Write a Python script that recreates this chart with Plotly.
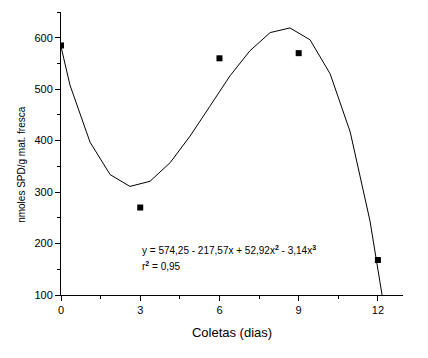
import plotly.graph_objects as go

# Measured points
coletas = [0, 3, 6, 9, 12]
spd = [585, 270, 560, 570, 168]

# Fitted curve vertices
curve_x = [-0.42, 0.34, 1.10, 1.86, 2.61, 3.37, 4.13, 4.89, 5.64, 6.40, 7.16, 7.92, 8.67, 9.43, 10.19, 10.95, 11.70, 12.46]
curve_y = [675, 508, 397, 334, 311, 321, 357, 409, 467, 526, 575, 610, 619, 596, 530, 417, 244, 5]

x_ticks = [0, 3, 6, 9, 12]
y_ticks = [100, 200, 300, 400, 500, 600]

font = "Arial, Liberation Sans, sans-serif"

fig = go.Figure()
fig.add_trace(go.Scatter(x=curve_x, y=curve_y, mode="lines",
                         line=dict(color="black", width=1), showlegend=False))
fig.add_trace(go.Scatter(x=coletas, y=spd, mode="markers", cliponaxis=True,
                         marker=dict(symbol="square", size=6, color="black"),
                         showlegend=False))

fig.update_layout(
    width=428, height=358,
    margin=dict(l=61, r=25, t=12, b=63),
    paper_bgcolor="white", plot_bgcolor="white",
    font=dict(family=font, size=11, color="black"),
    xaxis=dict(range=[0, 12.95], tickvals=x_ticks, ticktext=[str(v) for v in x_ticks],
               automargin=False,
               showgrid=False, zeroline=False, showline=True, linecolor="black", linewidth=1,
               ticks="outside", ticklen=5, tickwidth=1, tickcolor="black",
               minor=dict(dtick=1.5, tick0=0, ticks="outside", ticklen=3, tickcolor="black", showgrid=False),
               title=dict(text="Coletas (dias)", font=dict(size=13, family=font), standoff=12),
               tickfont=dict(size=11, family=font)),
    yaxis=dict(range=[100, 650], tickvals=y_ticks, ticktext=[str(v) for v in y_ticks],
               automargin=False,
               showgrid=False, zeroline=False, showline=True, linecolor="black", linewidth=1,
               ticks="outside", ticklen=5, tickwidth=1, tickcolor="black",
               minor=dict(dtick=50, tick0=0, ticks="outside", ticklen=3, tickcolor="black", showgrid=False),
               tickfont=dict(size=11, family=font)),
)

fig.add_annotation(x=-0.114, y=0.46, xref="paper", yref="paper", xanchor="center", yanchor="middle",
                   text="nmoles SPD/g mat. fresca", textangle=-90,
                   showarrow=False, font=dict(size=10, family=font, color="black"))
fig.add_annotation(x=3, y=187, xref="x", yref="y", xanchor="left", yanchor="middle",
                   text="y = 574,25 - 217,57x + 52,92x<sup><b>2</b></sup> - 3,14x<sup><b>3</b></sup>",
                   showarrow=False, font=dict(size=10, family=font, color="black"))
fig.add_annotation(x=3, y=156, xref="x", yref="y", xanchor="left", yanchor="middle",
                   text="r<sup><b>2</b></sup> = 0,95",
                   showarrow=False, font=dict(size=10, family=font, color="black"))

fig.write_html("out.html", config={"displayModeBar": False},
               post_script="document.body.style.margin='0';")
